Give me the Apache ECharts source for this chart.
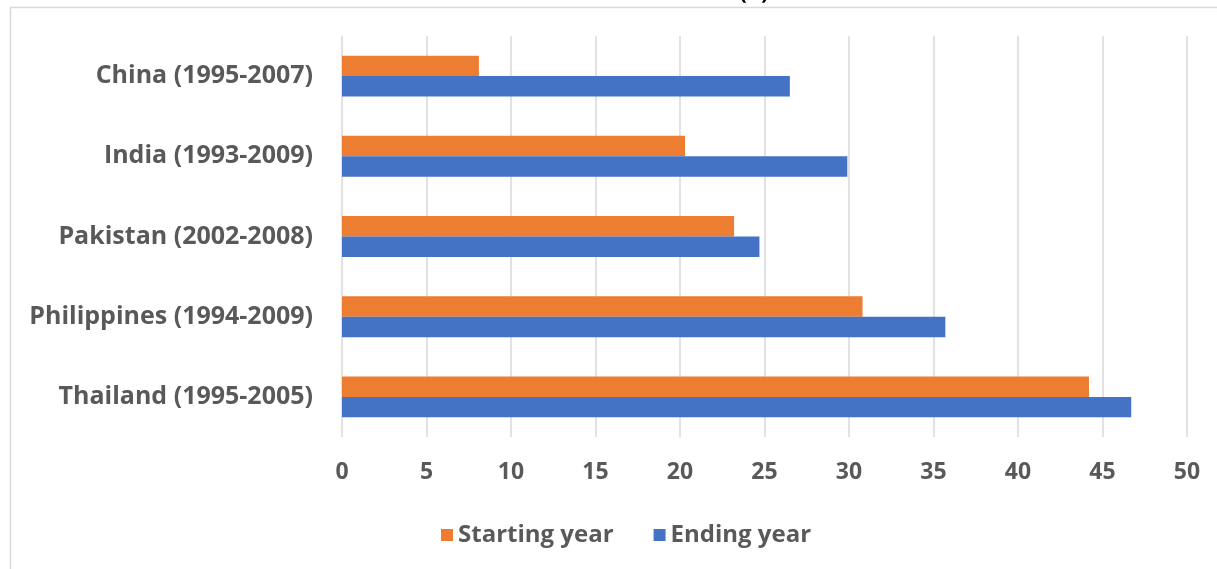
<!DOCTYPE html>
<html>
<head>
<meta charset="utf-8">
<script src="https://cdn.jsdelivr.net/npm/echarts@6/dist/echarts.min.js"></script>
<style>
  html, body { margin: 0; padding: 0; background: #ffffff; }
  #chart { width: 1217px; height: 569px; }
</style>
</head>
<body>
<div id="chart"></div>
<script>
// Countries and survey periods, top to bottom
const categories = [
  'China (1995-2007)',
  'India (1993-2009)',
  'Pakistan (2002-2008)',
  'Philippines (1994-2009)',
  'Thailand (1995-2005)'
];
const startingYear = [8.1, 20.3, 23.2, 30.8, 44.2];
const endingYear = [26.5, 29.9, 24.7, 35.7, 46.7];
const xTicks = { min: 0, max: 50, interval: 5 };

const FONT = '"Open Sans", "Noto Sans", sans-serif';
const GREY = '#595959';

const chart = echarts.init(document.getElementById('chart'), null, { renderer: 'canvas' });
chart.setOption({
  animation: false,
  backgroundColor: '#ffffff',
  title: {
    text: '(b)',
    left: 749,
    textAlign: 'center',
    top: -23,
    textStyle: { fontFamily: FONT, fontSize: 22, fontWeight: 'bold', color: '#000000' }
  },
  graphic: [{
    type: 'rect',
    shape: { x: 10.5, y: 7.5, width: 1400, height: 800 },
    style: { fill: 'none', stroke: '#d9d9d9', lineWidth: 1.5 },
    silent: true,
    z: -1
  }],
  grid: { left: 342, right: 30, top: 36, bottom: 132, containLabel: false },
  legend: {
    data: ['Starting year', 'Ending year'],
    left: 436,
    top: 518,
    itemWidth: 12,
    itemHeight: 12,
    itemGap: 40,
    icon: 'rect',
    textStyle: { fontFamily: FONT, fontSize: 24, fontWeight: 'bold', color: GREY }
  },
  xAxis: {
    type: 'value',
    min: xTicks.min,
    max: xTicks.max,
    interval: xTicks.interval,
    axisLine: { show: false },
    axisTick: { show: false },
    splitLine: { show: true, lineStyle: { color: '#d9d9d9', width: 1.5 } },
    axisLabel: { fontFamily: FONT, fontSize: 23, fontWeight: 'bold', color: GREY, margin: 24 }
  },
  yAxis: {
    type: 'category',
    data: categories,
    inverse: true,
    axisLine: { show: false },
    axisTick: { show: false },
    axisLabel: { fontFamily: FONT, fontSize: 25, fontWeight: 'bold', color: GREY, margin: 29 }
  },
  series: [
    {
      name: 'Starting year',
      type: 'bar',
      data: startingYear,
      itemStyle: { color: '#ed7d31' },
      barGap: '0%',
      barCategoryGap: '49%'
    },
    {
      name: 'Ending year',
      type: 'bar',
      data: endingYear,
      itemStyle: { color: '#4472c4' },
      barGap: '0%',
      barCategoryGap: '49%'
    }
  ]
});
</script>
</body>
</html>
